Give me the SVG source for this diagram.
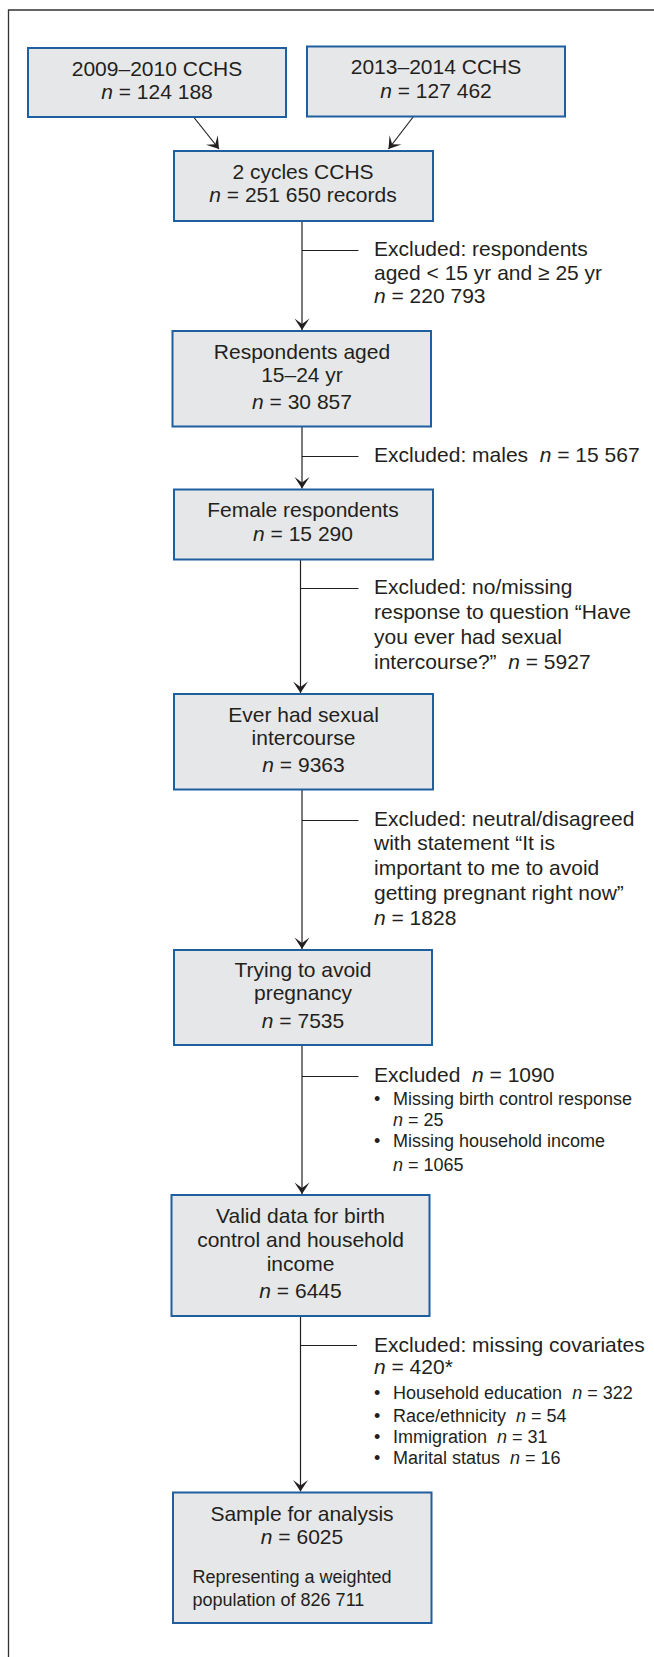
<svg xmlns="http://www.w3.org/2000/svg" width="654" height="1657" viewBox="0 0 654 1657">
<style>
.box{fill:#e6e7e8;stroke:#1f5fa0;stroke-width:2}
.t{font-family:"Liberation Sans",Arial,sans-serif;font-size:21px;fill:#231f20;white-space:pre}
.c{text-anchor:middle}
.s{font-size:18px}
.i{font-style:italic}
.ln{stroke:#231f20;stroke-width:1.2;fill:none}
.fr{stroke:#333;stroke-width:1.3;fill:none}
</style>
<defs>
<marker id="ah" markerUnits="userSpaceOnUse" viewBox="-12 -8 13 16" refX="0" refY="0" markerWidth="13" markerHeight="16" orient="auto">
<path d="M0,0 L-11.5,-7.5 L-6,0 L-11.5,7.5 Z" fill="#231f20"/>
</marker>
</defs>
<rect width="654" height="1657" fill="#fff"/>
<g id="frame">
<path class="fr" d="M8.5,1657 V10 H654"/>
</g>
<g id="connectors">
<line class="ln" x1="194" y1="117.5" x2="219" y2="149" marker-end="url(#ah)"/>
<line class="ln" x1="413.5" y1="116.5" x2="388.5" y2="149" marker-end="url(#ah)"/>
<line class="ln" x1="302" y1="221" x2="302" y2="330" marker-end="url(#ah)"/>
<line class="ln" x1="302" y1="250.5" x2="358.5" y2="250.5"/>
<line class="ln" x1="302" y1="426.5" x2="302" y2="488.5" marker-end="url(#ah)"/>
<line class="ln" x1="302" y1="456.5" x2="358.5" y2="456.5"/>
<line class="ln" x1="300.5" y1="559.5" x2="300.5" y2="693" marker-end="url(#ah)"/>
<line class="ln" x1="300.5" y1="588.5" x2="358.5" y2="588.5"/>
<line class="ln" x1="302" y1="789.5" x2="302" y2="949" marker-end="url(#ah)"/>
<line class="ln" x1="302" y1="820.5" x2="358.5" y2="820.5"/>
<line class="ln" x1="302" y1="1045" x2="302" y2="1194" marker-end="url(#ah)"/>
<line class="ln" x1="302" y1="1076.5" x2="358.5" y2="1076.5"/>
<line class="ln" x1="300.5" y1="1316" x2="300.5" y2="1491.5" marker-end="url(#ah)"/>
<line class="ln" x1="300.5" y1="1345.5" x2="357" y2="1345.5"/>
</g>
<g id="n1">
<rect class="box" x="28" y="48" width="258" height="69"/>
<text class="t c" x="157" y="76">2009–2010 CCHS</text>
<text class="t c" x="157" y="99"><tspan class="i">n</tspan> = 124 188</text>
</g>
<g id="n2">
<rect class="box" x="307" y="46.5" width="258" height="70"/>
<text class="t c" x="436" y="74">2013–2014 CCHS</text>
<text class="t c" x="436" y="97.5"><tspan class="i">n</tspan> = 127 462</text>
</g>
<g id="n3">
<rect class="box" x="174" y="151" width="259" height="70"/>
<text class="t c" x="303" y="179">2 cycles CCHS</text>
<text class="t c" x="303" y="202"><tspan class="i">n</tspan> = 251 650 records</text>
</g>
<g id="x1">
<text class="t" x="374" y="256">Excluded: respondents</text>
<text class="t" x="374" y="279.5">aged &lt; 15 yr and ≥ 25 yr</text>
<text class="t" x="374" y="303"><tspan class="i">n</tspan> = 220 793</text>
</g>
<g id="n4">
<rect class="box" x="172.5" y="331" width="258.5" height="95.5"/>
<text class="t c" x="302" y="359">Respondents aged</text>
<text class="t c" x="302" y="382">15–24 yr</text>
<text class="t c" x="302" y="408.5"><tspan class="i">n</tspan> = 30 857</text>
</g>
<g id="x2">
<text class="t" x="374" y="462">Excluded: males  <tspan class="i">n</tspan> = 15 567</text>
</g>
<g id="n5">
<rect class="box" x="174" y="489.5" width="259" height="70"/>
<text class="t c" x="303" y="517">Female respondents</text>
<text class="t c" x="303" y="540.5"><tspan class="i">n</tspan> = 15 290</text>
</g>
<g id="x3">
<text class="t" x="374" y="594">Excluded: no/missing</text>
<text class="t" x="374" y="619">response to question “Have</text>
<text class="t" x="374" y="644">you ever had sexual</text>
<text class="t" x="374" y="669">intercourse?”  <tspan class="i">n</tspan> = 5927</text>
</g>
<g id="n6">
<rect class="box" x="174" y="694" width="259" height="95.5"/>
<text class="t c" x="303.5" y="722">Ever had sexual</text>
<text class="t c" x="303.5" y="745">intercourse</text>
<text class="t c" x="303.5" y="771.5"><tspan class="i">n</tspan> = 9363</text>
</g>
<g id="x4">
<text class="t" x="374" y="826">Excluded: neutral/disagreed</text>
<text class="t" x="374" y="850">with statement “It is</text>
<text class="t" x="374" y="875">important to me to avoid</text>
<text class="t" x="374" y="900">getting pregnant right now”</text>
<text class="t" x="374" y="925"><tspan class="i">n</tspan> = 1828</text>
</g>
<g id="n7">
<rect class="box" x="174" y="950" width="258" height="95"/>
<text class="t c" x="303" y="976.5">Trying to avoid</text>
<text class="t c" x="303" y="1000">pregnancy</text>
<text class="t c" x="303" y="1027.5"><tspan class="i">n</tspan> = 7535</text>
</g>
<g id="x5">
<text class="t" x="374" y="1082">Excluded  <tspan class="i">n</tspan> = 1090</text>
<text class="t s" x="374" y="1104.5">•</text>
<text class="t s" x="393" y="1104.5">Missing birth control response</text>
<text class="t s" x="393" y="1126"><tspan class="i">n</tspan> = 25</text>
<text class="t s" x="374" y="1146.5">•</text>
<text class="t s" x="393" y="1146.5">Missing household income</text>
<text class="t s" x="393" y="1170.5"><tspan class="i">n</tspan> = 1065</text>
</g>
<g id="n8">
<rect class="box" x="171.5" y="1195" width="258" height="121"/>
<text class="t c" x="300.5" y="1222.5">Valid data for birth</text>
<text class="t c" x="300.5" y="1246.5">control and household</text>
<text class="t c" x="300.5" y="1271">income</text>
<text class="t c" x="300.5" y="1298"><tspan class="i">n</tspan> = 6445</text>
</g>
<g id="x6">
<text class="t" x="374" y="1352">Excluded: missing covariates</text>
<text class="t" x="374" y="1374"><tspan class="i">n</tspan> = 420*</text>
<text class="t s" x="374" y="1399">•</text>
<text class="t s" x="393" y="1399">Household education  <tspan class="i">n</tspan> = 322</text>
<text class="t s" x="374" y="1421.5">•</text>
<text class="t s" x="393" y="1421.5">Race/ethnicity  <tspan class="i">n</tspan> = 54</text>
<text class="t s" x="374" y="1443">•</text>
<text class="t s" x="393" y="1443">Immigration  <tspan class="i">n</tspan> = 31</text>
<text class="t s" x="374" y="1464">•</text>
<text class="t s" x="393" y="1464">Marital status  <tspan class="i">n</tspan> = 16</text>
</g>
<g id="n9">
<rect class="box" x="173" y="1492.5" width="258.5" height="130.5"/>
<text class="t c" x="302" y="1520.5">Sample for analysis</text>
<text class="t c" x="302" y="1543.5"><tspan class="i">n</tspan> = 6025</text>
<text class="t s" x="192.5" y="1582.5">Representing a weighted</text>
<text class="t s" x="192.5" y="1606">population of 826 711</text>
</g>
</svg>
